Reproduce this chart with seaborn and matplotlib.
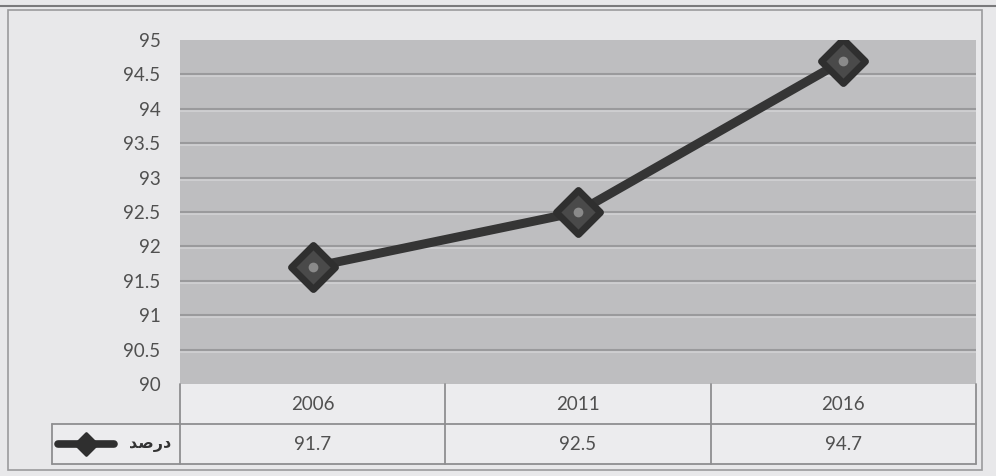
import matplotlib
matplotlib.use("Agg")
import matplotlib.pyplot as plt
import matplotlib.transforms as mtransforms
from matplotlib.patches import Rectangle
from matplotlib.lines import Line2D
from matplotlib.markers import MarkerStyle
import seaborn as sns
import pandas as pd
import numpy as np

# ---- data ----
years = ["2006", "2011", "2016"]
values = [91.7, 92.5, 94.7]
value_labels = ["91.7", "92.5", "94.7"]
series_name = "\uFEAA\uFEBB\uFEAD\uFEA9"  # "درصد" in visual (presentation) form
ytick_values = [90, 90.5, 91, 91.5, 92, 92.5, 93, 93.5, 94, 94.5, 95]
ytick_labels = ["90", "90.5", "91", "91.5", "92", "92.5", "93", "93.5", "94", "94.5", "95"]

sns.set_theme(style="white")
plt.rcParams['font.family'] = ['Lato', 'DejaVu Sans']

W, H = 996, 476
fig = plt.figure(figsize=(W / 100, H / 100), dpi=100)
fig.patch.set_facecolor("#e8e8ea")

def fx(x):
    return x / W

def fy(y):
    return 1 - y / H

# plot area pixels
L, R, T, B = 180, 976, 40, 384
ax = fig.add_axes([fx(L), fy(B), fx(R) - fx(L), fy(T) - fy(B)])
ax.set_facecolor("#bebec0")
for s in ax.spines.values():
    s.set_visible(False)

df = pd.DataFrame({"idx": np.arange(len(years)), "val": values})

# gridlines (embossed look)
off = mtransforms.offset_copy(ax.transData, fig=fig, y=-2, units="dots")
ax.hlines(ytick_values[1:-1], -0.5, 2.5, colors="#d2d2d4", lw=1.2, transform=off, zorder=1)
ax.hlines(ytick_values[1:-1], -0.5, 2.5, colors="#9a9a9c", lw=1.5, zorder=1)

diamond = MarkerStyle("D", joinstyle="round")
sns.lineplot(data=df, x="idx", y="val", ax=ax, color="#353535", lw=6.5,
             marker=diamond, markersize=22, markerfacecolor="#4a4a4a",
             markeredgecolor="#2f2f2f", markeredgewidth=5, zorder=3,
             solid_capstyle="round")
ax.plot(df["idx"], df["val"], ls="none", marker="o", markersize=7,
        markerfacecolor="#8a8a8a", markeredgewidth=0, zorder=4)

ax.set_xlim(-0.5, 2.5)
ax.set_ylim(90, 95)
ax.set_yticks(ytick_values)
ax.set_yticklabels(ytick_labels, fontsize=13.5, color="#505050")
ax.tick_params(axis="y", length=0, pad=14)
ax.set_xticks([])
ax.set_xlabel("")
ax.set_ylabel("")

# ---- data table ----
lc = "#8e8e90"
cell_fill = "#ececee"
ncol = len(years)
colw = (R - L) / ncol
row1_top, row1_bot, row2_bot = B, 424, 464
leg_left = 52

fig.patches.append(Rectangle((fx(L), fy(row1_bot)), fx(R) - fx(L), fy(row1_top) - fy(row1_bot),
                             transform=fig.transFigure, facecolor=cell_fill, edgecolor="none", zorder=0))
fig.patches.append(Rectangle((fx(leg_left), fy(row2_bot)), fx(R) - fx(leg_left), fy(row1_bot) - fy(row2_bot),
                             transform=fig.transFigure, facecolor=cell_fill, edgecolor="none", zorder=0))

def hline(x0, x1, y, color=lc, lw=1.3):
    fig.add_artist(Line2D([fx(x0), fx(x1)], [fy(y), fy(y)], transform=fig.transFigure, color=color, lw=lw))

def vline(x, y0, y1, color=lc, lw=1.3):
    fig.add_artist(Line2D([fx(x), fx(x)], [fy(y0), fy(y1)], transform=fig.transFigure, color=color, lw=lw))

hline(leg_left, R, row1_bot)
hline(leg_left, R, row2_bot)
vline(leg_left, row1_bot, row2_bot)
for i in range(ncol + 1):
    vline(L + i * colw, row1_top, row2_bot)

for i, (yr, vl) in enumerate(zip(years, value_labels)):
    cx = L + (i + 0.5) * colw
    fig.text(fx(cx), fy((row1_top + row1_bot) / 2), yr, ha="center", va="center",
             fontsize=13.5, color="#505050")
    fig.text(fx(cx), fy((row1_bot + row2_bot) / 2), vl, ha="center", va="center",
             fontsize=13.5, color="#505050")

# legend key in the table
ly = (row1_bot + row2_bot) / 2
fig.add_artist(Line2D([fx(58), fx(114)], [fy(ly), fy(ly)], transform=fig.transFigure,
                      color="#2f2f2f", lw=5.5, solid_capstyle="round"))
fig.add_artist(Line2D([fx(86)], [fy(ly)], transform=fig.transFigure, ls="none",
                      marker=MarkerStyle("D", joinstyle="round"),
                      markersize=11, markerfacecolor="#2f2f2f", markeredgecolor="#2f2f2f",
                      markeredgewidth=2))
fig.text(fx(171), fy(ly), series_name, ha="right", va="center", fontsize=11.5,
         fontweight="bold", color="#333333", family=["DejaVu Sans"])

# outer chart frame and top scan edge
fig.patches.append(Rectangle((fx(8), fy(470)), fx(982) - fx(8), fy(10) - fy(470),
                             transform=fig.transFigure, facecolor="none", edgecolor="#9a9a9c", lw=1.2, zorder=0))
hline(0, W, 6, color="#7a7a7c", lw=1.5)

fig.savefig("out.png", dpi=100, facecolor=fig.get_facecolor())
